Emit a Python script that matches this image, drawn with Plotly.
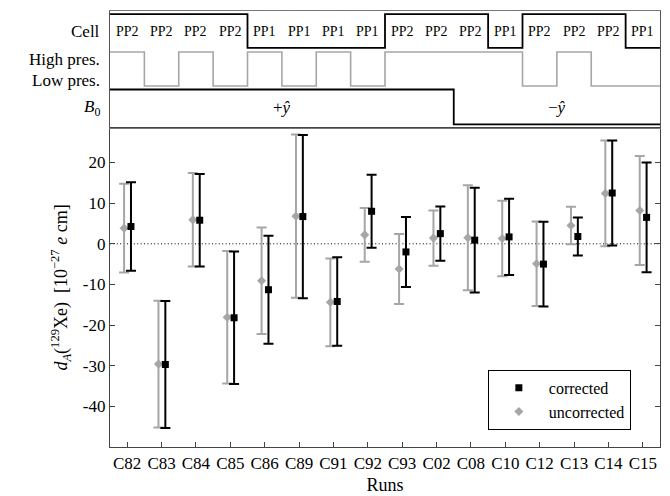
import plotly.graph_objects as go

runs = ["C82", "C83", "C84", "C85", "C86", "C89", "C91", "C92",
        "C93", "C02", "C08", "C10", "C12", "C13", "C14", "C15"]
corrected = [4.25, -29.7, 5.8, -18.2, -11.3, 6.7, -14.2, 8.0,
             -2.0, 2.5, 0.9, 1.7, -5.0, 1.8, 12.5, 6.5]
corrected_err = [10.9, 15.6, 11.4, 16.3, 13.3, 20.1, 10.9, 9.0,
                 8.6, 6.7, 12.9, 9.4, 10.4, 4.7, 12.9, 13.5]
uncorrected = [3.85, -29.6, 5.9, -18.1, -9.1, 6.8, -14.4, 2.2,
               -6.2, 1.4, 1.5, 1.3, -4.9, 4.5, 12.4, 8.2]
uncorrected_err = [10.9, 15.6, 11.5, 16.3, 13.1, 20.1, 10.8, 6.6,
                   8.6, 6.8, 12.9, 9.3, 10.4, 4.6, 13.0, 13.4]
cells = ["PP2", "PP2", "PP2", "PP2", "PP1", "PP1", "PP1", "PP1",
         "PP2", "PP2", "PP2", "PP1", "PP2", "PP2", "PP2", "PP1"]
pressure = ["High", "Low", "High", "Low", "High", "Low", "High", "Low",
            "High", "High", "High", "High", "Low", "High", "Low", "Low"]
b0_dir = ["+", "+", "+", "+", "+", "+", "+", "+", "+", "+",
          "-", "-", "-", "-", "-", "-"]
yticks = [-40, -30, -20, -10, 0, 10, 20]
yticklabels = ["-40", "-30", "-20", "-10", "0", "10", "20"]

FONT = "Liberation Serif"
GRAY = "#a6a6a6"
AXC = "#444444"
n = len(runs)
idx = list(range(n))

# top-panel row levels (in y2 units, 0..1)
CELL_HI, CELL_LO = 0.974, 0.684
PRES_HI, PRES_LO = 0.650, 0.359
B0_HI, B0_LO = 0.329, 0.030
CELL_TXT, B0_TXT = 0.829, 0.171

fig = go.Figure()

fig.add_trace(go.Scatter(
    x=[i - 0.09 for i in idx], y=uncorrected, mode="markers", name="uncorrected",
    marker=dict(symbol="diamond", size=7, color=GRAY),
    error_y=dict(type="data", array=uncorrected_err, color=GRAY, thickness=2, width=5),
    legendrank=2,
))
fig.add_trace(go.Scatter(
    x=[i + 0.11 for i in idx], y=corrected, mode="markers", name="corrected",
    marker=dict(symbol="square", size=7, color="black"),
    error_y=dict(type="data", array=corrected_err, color="black", thickness=2, width=5),
    legendrank=1,
))

xb = [i - 0.5 for i in idx] + [n - 0.5]


def steps(vals):
    return vals + [vals[-1]]


cell_y = [CELL_HI if c == "PP2" else CELL_LO for c in cells]
pres_y = [PRES_HI if p == "High" else PRES_LO for p in pressure]
b0_y = [B0_HI if b == "+" else B0_LO for b in b0_dir]

fig.add_trace(go.Scatter(x=xb, y=steps(pres_y), xaxis="x2", yaxis="y2", mode="lines",
                         line=dict(shape="hv", color=GRAY, width=1.6), showlegend=False,
                         hoverinfo="skip"))
fig.add_trace(go.Scatter(x=xb, y=steps(cell_y), xaxis="x2", yaxis="y2", mode="lines",
                         line=dict(shape="hv", color="black", width=1.8), showlegend=False,
                         hoverinfo="skip"))
fig.add_trace(go.Scatter(x=xb, y=steps(b0_y), xaxis="x2", yaxis="y2", mode="lines",
                         line=dict(shape="hv", color="black", width=1.8), showlegend=False,
                         hoverinfo="skip"))

# cell labels
for i, c in zip(idx, cells):
    fig.add_annotation(text=c, x=i, xref="x2", y=CELL_TXT, yref="y2", showarrow=False,
                       xanchor="center", yanchor="middle",
                       font=dict(family=FONT, size=14, color="black"))

# B0 labels, centred over each field direction span
plus_idx = [i for i in idx if b0_dir[i] == "+"]
minus_idx = [i for i in idx if b0_dir[i] == "-"]
for xs, lab in [(plus_idx, "+<i>ŷ</i>"), (minus_idx, "−<i>ŷ</i>")]:
    fig.add_annotation(text=lab, x=sum(xs) / len(xs), xref="x2", y=B0_TXT, yref="y2",
                       showarrow=False, xanchor="center", yanchor="middle",
                       font=dict(family=FONT, size=17, color="black"))

row_labels = [("Cell", CELL_TXT), ("High pres.", 0.585), ("Low pres.", 0.405),
              ("<i>B</i><sub>0</sub>", B0_TXT)]
for txt, yy in row_labels:
    fig.add_annotation(text=txt, x=-0.015, xref="paper", y=yy, yref="y2",
                       xanchor="right", yanchor="middle", showarrow=False,
                       font=dict(family=FONT, size=17, color="black"))

fig.add_shape(type="line", xref="x", yref="y", x0=-0.5, x1=n - 0.5, y0=0, y1=0,
              line=dict(color="black", width=1, dash="1px,2.4px"), layer="below")

# page body adds an 8px offset; margins compensate so the plot sits where the reference does
main_top = 0.7317
fig.update_layout(
    width=670, height=496,
    margin=dict(l=102, r=18, t=3, b=57, autoexpand=False),
    paper_bgcolor="white", plot_bgcolor="white",
    font=dict(family=FONT, size=17, color="black"),
    xaxis=dict(domain=[0, 1], range=[-0.5, n - 0.5], tickvals=idx, ticktext=runs,
               ticks="inside", ticklen=5, tickcolor=AXC, showline=True, linecolor=AXC,
               linewidth=1.2, mirror=True, showgrid=False, zeroline=False, automargin=False,
               title=dict(text="Runs", font=dict(family=FONT, size=18), standoff=6),
               tickfont=dict(family=FONT, size=17), anchor="y"),
    yaxis=dict(domain=[0, main_top], range=[-50, 28.5], tickvals=yticks, ticktext=yticklabels,
               ticks="inside", ticklen=5, tickcolor=AXC, showline=True, linecolor=AXC,
               linewidth=1.2, mirror="ticks", showgrid=False, zeroline=False, automargin=False,
               tickfont=dict(family=FONT, size=17),
               title=dict(text="<i>d</i><sub><i>A</i></sub>(<sup>129</sup>Xe)  [10<sup>−27</sup> <i>e</i> cm]",
                          font=dict(family=FONT, size=18), standoff=10)),
    xaxis2=dict(domain=[0, 1], range=[-0.5, n - 0.5], anchor="y2", showticklabels=False,
                ticks="", showline=True, linecolor="#777777", linewidth=1, mirror=True,
                showgrid=False, zeroline=False, automargin=False),
    yaxis2=dict(domain=[main_top, 1], range=[0, 1], anchor="x2", showticklabels=False,
                ticks="", showline=True, linecolor="#555555", linewidth=1, mirror=True,
                showgrid=False, zeroline=False, automargin=False),
    legend=dict(x=0.687, y=0.177, xanchor="left", yanchor="top", bgcolor="white",
                bordercolor="black", borderwidth=1, font=dict(family=FONT, size=16),
                itemwidth=50, tracegroupgap=0),
    showlegend=True,
)

fig.write_html("out.html")
